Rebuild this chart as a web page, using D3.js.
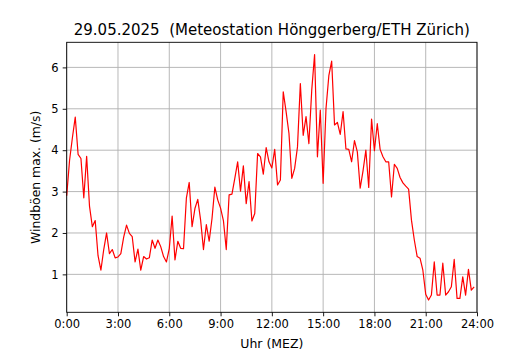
<!DOCTYPE html>
<html>
<head>
<meta charset="utf-8">
<script src="https://cdn.jsdelivr.net/npm/d3@7"></script>
<style>
    body { margin: 0; background: #fff; }
    svg { font-family: "DejaVu Sans", sans-serif; }
</style>
</head>
<body>
<div id="chart"></div>
<script>
// Windböen max. (m/s), one value every 10 minutes from 0:00 to 23:50
const sampleMinutes = 10;
const gusts = [
    2.9, 3.75, 4.3, 4.8, 3.9, 3.8,        // 0h
    2.85, 3.85, 2.65, 2.15, 2.3, 1.45,    // 1h
    1.1, 1.6, 2.0, 1.5, 1.6, 1.4,         // 2h
    1.42, 1.5, 1.9, 2.19, 1.99, 1.91,     // 3h
    1.3, 1.61, 1.1, 1.43, 1.37, 1.4,      // 4h
    1.83, 1.63, 1.83, 1.67, 1.43, 1.3,    // 5h
    1.62, 2.41, 1.35, 1.8, 1.63, 1.62,    // 6h
    2.84, 3.22, 2.15, 2.59, 2.81, 2.31,   // 7h
    1.6, 2.2, 1.8, 2.35, 3.11, 2.8,       // 8h
    2.6, 2.3, 1.6, 2.92, 2.94, 3.32,      // 9h
    3.72, 3.01, 3.62, 2.71, 3.24, 2.29,   // 10h
    2.47, 3.92, 3.84, 3.42, 4.06, 3.72,   // 11h
    3.57, 4.02, 3.16, 3.28, 5.41, 4.93,   // 12h
    4.41, 3.32, 3.56, 4.08, 5.61, 4.36,   // 13h
    4.81, 4.16, 5.45, 6.31, 3.84, 4.97,   // 14h
    3.2, 5.0, 5.8, 6.15, 4.61, 4.67,      // 15h
    4.38, 4.93, 4.03, 4.02, 3.72, 4.23,   // 16h
    3.96, 3.08, 3.5, 4.0, 3.1, 4.75,      // 17h
    3.99, 4.64, 4.02, 3.84, 3.72, 3.72,   // 18h
    2.87, 3.66, 3.56, 3.34, 3.21, 3.13,   // 19h
    3.06, 2.31, 1.83, 1.43, 1.39, 1.1,    // 20h
    0.52, 0.38, 0.5, 1.3, 0.5, 0.5,       // 21h
    1.27, 0.5, 0.58, 0.7, 1.36, 0.42,     // 22h
    0.42, 0.94, 0.5, 1.12, 0.62, 0.7      // 23h
];

const xTickHours = [0, 3, 6, 9, 12, 15, 18, 21, 24];
const xTickLabels = ['0:00', '3:00', '6:00', '9:00', '12:00', '15:00', '18:00', '21:00', '24:00'];
const yTicks = [1, 2, 3, 4, 5, 6];

const titleText = '29.05.2025  (Meteostation Hönggerberg/ETH Zürich)';
const xLabelText = 'Uhr (MEZ)';
const yLabelText = 'Windböen max. (m/s)';

const width = 530, height = 350;
const margin = { top: 42.3, right: 53, bottom: 37.7, left: 66.7 };
const innerW = width - margin.left - margin.right;
const innerH = height - margin.top - margin.bottom;

const points = gusts.map((v, i) => ({ hour: i * sampleMinutes / 60, value: v }));

// matplotlib-like 5% padding on y
const [yMin, yMax] = d3.extent(gusts);
const pad = (yMax - yMin) * 0.05;

const x = d3.scaleLinear().domain([0, 24]).range([0, innerW]);
const y = d3.scaleLinear().domain([yMin - pad, yMax + pad]).range([innerH, 0]);

const svg = d3.select('#chart')
    .append('svg')
    .attr('width', width)
    .attr('height', height);

const g = svg.append('g')
    .attr('transform', `translate(${margin.left},${margin.top})`);

// Grid lines
g.append('g')
    .selectAll('line')
    .data(xTickHours)
    .join('line')
    .attr('x1', d => x(d)).attr('x2', d => x(d))
    .attr('y1', 0).attr('y2', innerH)
    .attr('stroke', '#b0b0b0')
    .attr('stroke-width', 0.9);

g.append('g')
    .selectAll('line')
    .data(yTicks)
    .join('line')
    .attr('x1', 0).attr('x2', innerW)
    .attr('y1', d => y(d)).attr('y2', d => y(d))
    .attr('stroke', '#b0b0b0')
    .attr('stroke-width', 0.9);

// Data line
const line = d3.line()
    .x(d => x(d.hour))
    .y(d => y(d.value));

g.append('path')
    .datum(points)
    .attr('fill', 'none')
    .attr('stroke', '#ff0000')
    .attr('stroke-width', 1.2)
    .attr('stroke-linejoin', 'round')
    .attr('d', line);

// Axes
const xAxis = d3.axisBottom(x)
    .tickValues(xTickHours)
    .tickFormat((d, i) => xTickLabels[i])
    .tickSize(4)
    .tickPadding(4);

const yAxis = d3.axisLeft(y)
    .tickValues(yTicks)
    .tickFormat(d3.format('d'))
    .tickSize(4)
    .tickPadding(4);

const gx = g.append('g')
    .attr('transform', `translate(0,${innerH})`)
    .call(xAxis);

const gy = g.append('g').call(yAxis);

[gx, gy].forEach(a => {
    a.select('.domain').remove();
    a.selectAll('line').attr('stroke', '#000').attr('stroke-width', 0.9);
    a.selectAll('text')
        .attr('fill', '#000')
        .style('font-family', '"DejaVu Sans", sans-serif')
        .style('font-size', '11.5px');
});

// Frame
g.append('rect')
    .attr('width', innerW)
    .attr('height', innerH)
    .attr('fill', 'none')
    .attr('stroke', '#000')
    .attr('stroke-width', 0.9);

// Title and labels
svg.append('text')
    .attr('x', margin.left + innerW / 2)
    .attr('y', 35)
    .attr('text-anchor', 'middle')
    .style('font-size', '15px')
    .style('white-space', 'pre')
    .text(titleText);

svg.append('text')
    .attr('x', margin.left + innerW / 2)
    .attr('y', 348)
    .attr('text-anchor', 'middle')
    .style('font-size', '12.5px')
    .text(xLabelText);

svg.append('text')
    .attr('transform', `translate(39.5,${margin.top + innerH / 2}) rotate(-90)`)
    .attr('text-anchor', 'middle')
    .style('font-size', '12.4px')
    .text(yLabelText);
</script>
</body>
</html>
